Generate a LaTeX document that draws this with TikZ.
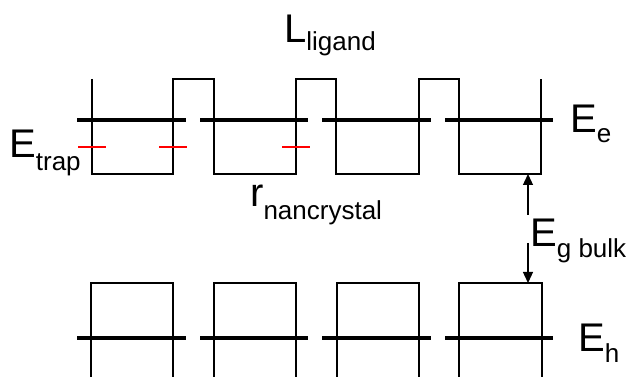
\documentclass[tikz,border=0pt]{standalone}
\usepackage{fontspec}
\setmainfont{Liberation Sans}
\usetikzlibrary{arrows.meta}
% subscript set lower and smaller than the main symbol
\newcommand{\lowsub}[2]{\raisebox{-#1pt}{\fontsize{26}{26}\selectfont #2}}
\begin{document}
\begin{tikzpicture}[x=1pt,y=-1pt,
  wall/.style={line width=1.3pt, line join=miter},
  level/.style={line width=4pt},
  trap/.style={line width=1.2pt, red},
  lab/.style={inner sep=0pt, anchor=base west, font=\fontsize{40}{40}\selectfont},
  gaparrow/.style={line width=1.3pt, -{Triangle[length=11pt,width=10pt]}}]
\useasboundingbox (0,0) rectangle (630,377);

% conduction band: quantum wells separated by ligand barriers
\draw[wall] (92,79) -- (92,174) -- (173,174) -- (173,79) -- (214,79) -- (214,174)
  -- (296,174) -- (296,79) -- (336,79) -- (336,174) -- (419,174) -- (419,79)
  -- (459,79) -- (459,174) -- (541,174) -- (541,79);

% electron levels
\foreach \a/\b in {77/186, 200/308, 322/431, 445/553}
  \draw[level] (\a,120) -- (\b,120);

% trap states at the crystal surfaces
\foreach \c in {92, 173, 296}
  \draw[trap] (\c-14,147) -- (\c+14,147);

% valence band: wells open downwards
\foreach \l/\r in {91/173, 214/296, 337/419, 459/542}
  \draw[wall] (\l,377) -- (\l,283) -- (\r,283) -- (\r,377);

% hole levels
\foreach \a/\b in {77/186, 200/308, 322/431, 445/553}
  \draw[level] (\a,338) -- (\b,338);

% bulk band gap arrows
\coordinate (wellbot) at (528,174);
\coordinate (boxtop) at (528,283);
\coordinate (gapup) at (528,215);
\coordinate (gapdown) at (528,243);
\draw[gaparrow] (gapup) -- (wellbot);
\draw[gaparrow] (gapdown) -- (boxtop);

% labels
\node[lab] (ligand) at (284,43) {L\lowsub{8}{ligand}};
\node[lab] (ee) at (570,133) {E\lowsub{10}{e}};
\node[lab] (etrap) at (9,158) {E\lowsub{13}{trap}};
\node[lab] (radius) at (250,207) {r\lowsub{13}{nancrystal}};
\node[lab] (egap) at (530,247) {E\lowsub{11}{g bulk}};
\node[lab] (eh) at (578,351) {E\lowsub{11}{h}};
\end{tikzpicture}
\end{document}
